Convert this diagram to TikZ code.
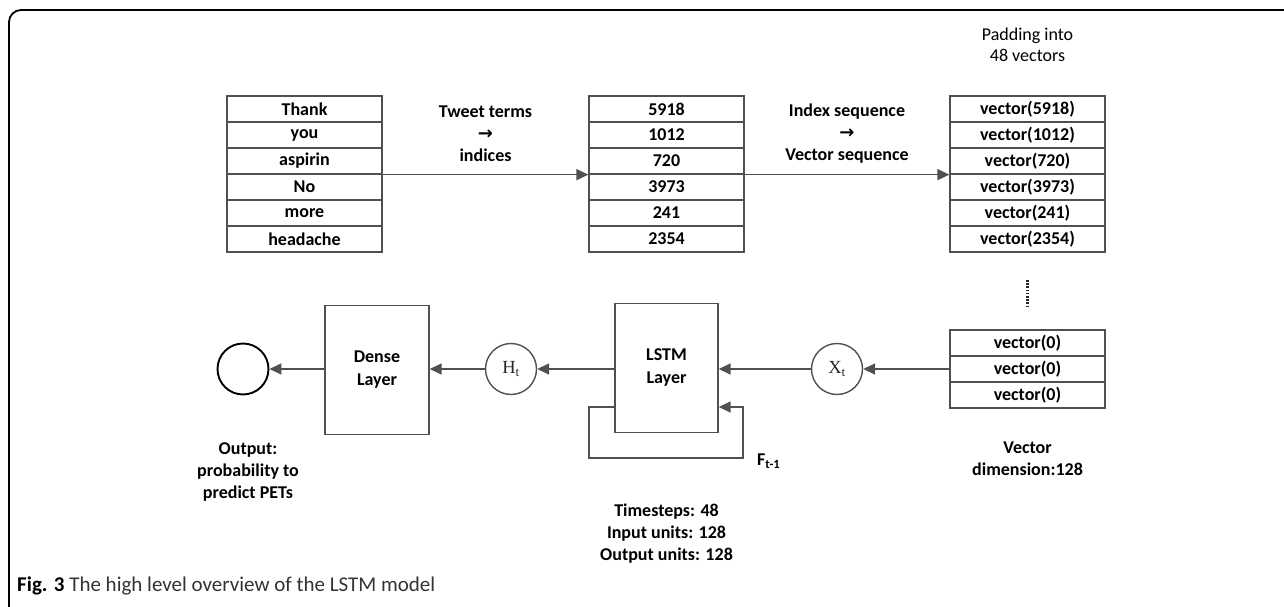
\documentclass[tikz,border=0pt]{standalone}
\usepackage{fontspec}
\setmainfont{Carlito}
\newfontfamily\arrowfont{DejaVu Sans}
\newfontfamily\symfont{Liberation Serif}
\usetikzlibrary{arrows.meta}
\definecolor{linegray}{HTML}{505050}
\definecolor{capgray}{HTML}{333333}
\newcommand{\rarr}{{\arrowfont\bfseries →}}
\begin{document}
\begin{tikzpicture}[x=1pt,y=-1pt,
  cell/.style={draw=linegray, line width=1.3pt, minimum width=155pt, minimum height=26pt, inner sep=0pt,
    font=\bfseries\fontsize{18}{21}\selectfont, text=black},
  layerbox/.style={draw=linegray, line width=1.4pt, inner sep=0pt, align=center,
    font=\bfseries\fontsize{18}{23}\selectfont, text=black},
  state/.style={circle, draw=linegray, line width=1.4pt, minimum size=51pt, inner sep=0pt,
    font=\symfont\fontsize{18.5}{20}\selectfont, text=black!85},
  lbl/.style={align=center, inner sep=0pt, font=\bfseries\fontsize{18}{22}\selectfont, text=black},
  arr/.style={draw=linegray, line width=1.6pt, -{Triangle[length=12pt,width=11pt]}},
  line/.style={draw=linegray, line width=1.6pt}
]
\useasboundingbox (0,0) rectangle (1284,607);
\clip (0,0) rectangle (1284,607);
% frame
\draw[line width=1.8pt, black, rounded corners=12pt] (9,10) rectangle (1320,640);

% table 1
\foreach \t [count=\i] in {Thank,you,aspirin,No,more,headache}
  \node[cell] (a\i) at (304.5,{83+26*\i}) {\t};
% table 2
\foreach \t [count=\i] in {5918,1012,720,3973,241,2354}
  \node[cell] (b\i) at (666.5,{83+26*\i}) {\t};
% table 3
\foreach \t [count=\i] in {5918,1012,720,3973,241,2354}
  \node[cell] (c\i) at (1027.5,{83+26*\i}) {vector(\t)};
% table 4
\foreach \i in {1,2,3}
  \node[cell] (d\i) at (1027.5,{317+26*\i}) {vector(0)};

% top labels
\node[lbl] (lab1) at (485.5,134) {Tweet terms\\\rarr\\indices};
\node[lbl] (lab2) at (847,134) {Index sequence\\\rarr\\Vector sequence};
\node[lbl, font=\fontsize{18}{21}\selectfont] (pad) at (1027.5,45) {Padding into\\48 vectors};

% top arrows
\draw[arr] (a3.south east) -- (b3.south west);
\draw[arr] (b3.south east) -- (c3.south west);

% dots
\coordinate (dtop) at (1027.5,280);
\coordinate (dbot) at (1027.5,306);
\draw[line width=2.2pt, black!85, dash pattern=on 1.6pt off 1.6pt] (dtop) -- (dbot);

% bottom row
\node[state, draw=black, line width=1.9pt] (out) at (243,369) {};
\node[layerbox, minimum width=104pt, minimum height=129pt] (dense) at (377,370) {Dense\\Layer};
\node[state] (ht) at (511,369) {H\textsubscript{t}};
\node[layerbox, minimum width=103pt, minimum height=129pt] (lstm) at (666.5,368) {LSTM\\Layer};
\node[state] (xt) at (837,369) {X\textsubscript{t}};

\draw[arr] (d2.west |- xt) -- (xt);
\draw[arr] (xt) -- (lstm.east |- xt);
\draw[arr] (lstm.west |- ht) -- (ht);
\draw[arr] (ht) -- (dense.east |- ht);
\draw[arr] (dense.west |- out) -- (out);

% feedback loop
\coordinate (fbA) at (589,407);
\coordinate (fbB) at (743,458);
\draw[arr] (lstm.west |- fbA) -- (fbA) |- (fbB) |- (lstm.east |- fbA);
\node[lbl, anchor=west] (ft) at (757,461) {F\textsubscript{t-1}};

% bottom labels
\node[lbl] (outlbl) at (248,472) {Output:\\probability to\\predict PETs};
\node[lbl] (ts) at (666.5,534) {Timesteps: 48\\Input units: 128\\Output units: 128};
\node[lbl] (vdim) at (1027.5,459) {Vector\\dimension:128};

% caption
\node[anchor=base west, inner sep=0pt, font=\fontsize{21}{24}\selectfont, text=capgray] (cap) at (17,591)
  {\textcolor{black}{\bfseries Fig. 3} The high level overview of the LSTM model};
\end{tikzpicture}
\end{document}
